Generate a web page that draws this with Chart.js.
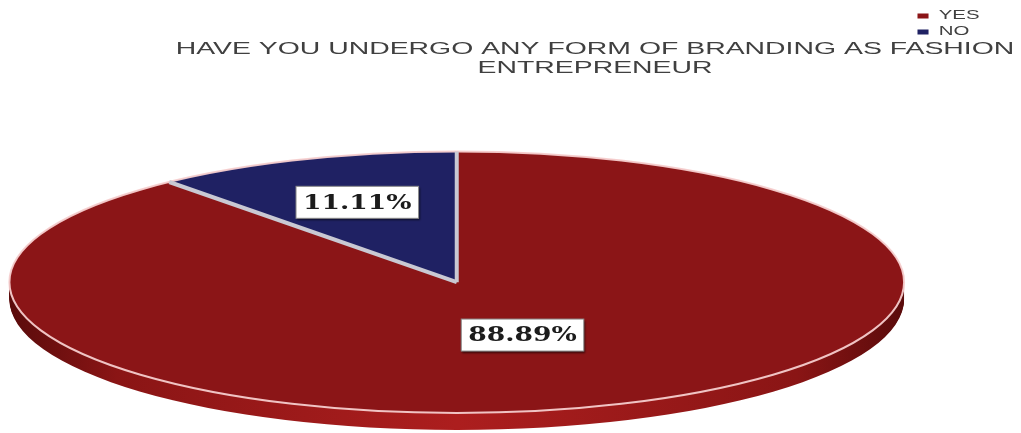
<!DOCTYPE html>
<html>
<head>
<meta charset="utf-8">
<script src="https://cdn.jsdelivr.net/npm/chart.js@4/dist/chart.umd.min.js"></script>
<style>
    body { margin: 0; background: #fff; }
    canvas { display: block; }
</style>
</head>
<body>
<canvas id="chartBox" width="1021" height="433"></canvas>
<script>
const categories = [ 'YES', 'NO' ]
const shares = [ 88.89, 11.11 ]
const titleLines = [ 'HAVE YOU UNDERGO ANY FORM OF BRANDING AS FASHION', 'ENTREPRENEUR' ]

const faceColors = [ '#8b1517', '#1f2163' ]

// title and legend are painted wide, like the old office export
const widenText = {
    id: 'widenText',
    beforeDraw: (chart, args, opts) => {
        const ctx = chart.ctx
        const wrap = (box, sx, pivot, target) => {
            if(!box || box._widened) return
            const draw = box.draw.bind(box)
            box.draw = (area) => {
                const p = pivot(box)
                ctx.save()
                ctx.translate(target(p), 0)
                ctx.scale(sx, 1)
                ctx.translate(-p, 0)
                draw(area)
                ctx.restore()
            }
            box._widened = true
        }
        wrap(chart.titleBlock, opts.title, b => (b.left + b.right) / 2, () => opts.titleCenter)
        wrap(chart.legend, opts.legend, b => b.left + b.options.labels.padding, p => p)
    }
}

// flat 3d look: squash the pie into an ellipse and give it a rim
const ellipsePie = {
    id: 'ellipsePie',
    beforeDatasetsDraw: (chart, args, opts) => {
        const ctx = chart.ctx
        const arcs = chart.getDatasetMeta(0).data
        const { x, y, outerRadius: r } = arcs[0]
        const sx = opts.stretch

        const side = ctx.createLinearGradient(x - r * sx, 0, x + r * sx, 0)
        side.addColorStop(0, '#5a0b0b')
        side.addColorStop(0.12, '#8a1515')
        side.addColorStop(0.5, '#ac1e1e')
        side.addColorStop(0.88, '#8a1515')
        side.addColorStop(1, '#5a0b0b')
        const sideFill = [ side, '#141641' ]

        for(let d = opts.depth; d > 0; d--){
            arcs.forEach((arc, i) => {
                ctx.save()
                ctx.translate(x, y + d)
                ctx.scale(sx, 1)
                ctx.beginPath()
                ctx.moveTo(0, 0)
                ctx.arc(0, 0, r, arc.startAngle, arc.endAngle)
                ctx.closePath()
                ctx.restore()
                ctx.fillStyle = sideFill[i]
                ctx.fill()
            })
        }

        ctx.save()
        ctx.translate(x, 0)
        ctx.scale(sx, 1)
        ctx.translate(-x, 0)
    },
    afterDatasetsDraw: (chart, args, opts) => {
        const ctx = chart.ctx
        ctx.restore()

        const arcs = chart.getDatasetMeta(0).data
        const { x, y, outerRadius: r } = arcs[0]
        const sx = opts.stretch

        ctx.save()
        ctx.lineWidth = 2
        ctx.strokeStyle = opts.rimColor
        ctx.beginPath()
        ctx.ellipse(x, y, r * sx, r, 0, 0, Math.PI * 2)
        ctx.stroke()

        ctx.lineWidth = opts.seamWidth
        ctx.strokeStyle = opts.seamColor
        arcs.forEach(arc => {
            ctx.beginPath()
            ctx.moveTo(x, y)
            ctx.lineTo(x + Math.cos(arc.startAngle) * r * sx, y + Math.sin(arc.startAngle) * r)
            ctx.stroke()
        })
        ctx.restore()

        // percentage tags
        ctx.save()
        ctx.font = opts.labelFont
        ctx.textAlign = 'center'
        ctx.textBaseline = 'middle'
        arcs.forEach((arc, i) => {
            const mid = (arc.startAngle + arc.endAngle) / 2
            const f = opts.labelRadius[i]
            const px = x + Math.cos(mid) * r * f * sx
            const py = y + Math.sin(mid) * r * f
            const text = shares[i].toFixed(2) + '%'
            const w = ctx.measureText(text).width * opts.labelStretch + 14
            const h = 32

            ctx.save()
            ctx.shadowColor = 'rgba(0, 0, 0, 0.6)'
            ctx.shadowOffsetX = 1
            ctx.shadowOffsetY = 2
            ctx.shadowBlur = 2
            ctx.fillStyle = '#ffffff'
            ctx.fillRect(px - w / 2, py - h / 2, w, h)
            ctx.restore()
            ctx.strokeStyle = '#8a8a8a'
            ctx.lineWidth = 1
            ctx.strokeRect(px - w / 2, py - h / 2, w, h)

            ctx.save()
            ctx.translate(px, py)
            ctx.scale(opts.labelStretch, 1)
            ctx.fillStyle = '#1c1c1c'
            ctx.fillText(text, 0, 1)
            ctx.restore()
        })
        ctx.restore()
    }
}

const context = document.querySelector('#chartBox').getContext('2d')
const chart = new Chart(context, {
    type: 'pie',
    data: {
        labels: categories,
        datasets: [{
            data: shares,
            backgroundColor: faceColors,
            borderWidth: 0,
            clip: false
        }]
    },
    options: {
        responsive: false,
        animation: false,
        layout: {
            padding: { top: 6, right: 57, bottom: 20, left: 0 }
        },
        plugins: {
            tooltip: { enabled: false },
            title: {
                display: true,
                text: titleLines,
                color: '#404040',
                font: { family: 'Liberation Sans', size: 17, weight: 'normal', lineHeight: 1.1 },
                padding: { top: 34, bottom: 74 }
            },
            legend: {
                position: 'right',
                align: 'start',
                labels: {
                    boxWidth: 6.5,
                    boxHeight: 5,
                    padding: 4,
                    color: '#404040',
                    font: { family: 'Liberation Sans', size: 12 }
                }
            },
            widenText: { title: 1.67, legend: 1.7, titleCenter: 595 },
            ellipsePie: {
                stretch: 3.42,
                depth: 17,
                rimColor: 'rgba(245, 205, 205, 0.95)',
                seamColor: '#c9c9d3',
                seamWidth: 4,
                labelRadius: [ 0.43, 0.65 ],
                labelStretch: 1.33,
                labelFont: 'bold 20px "DejaVu Serif"'
            }
        }
    },
    plugins: [ widenText, ellipsePie ]
})
</script>
</body>
</html>
